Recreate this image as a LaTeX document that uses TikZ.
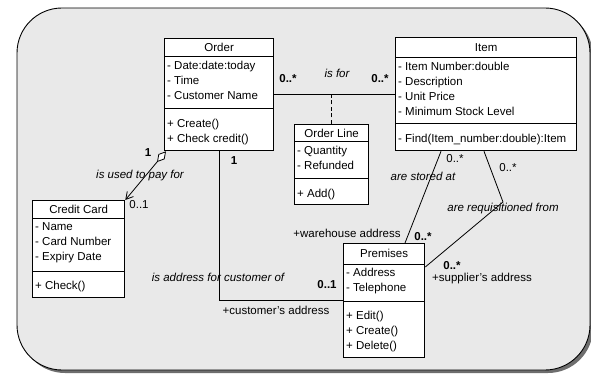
\documentclass[tikz,border=0pt]{standalone}
\usepackage{fontspec}
\setmainfont{Liberation Sans}
\usetikzlibrary{arrows.meta}

\definecolor{panelgray}{RGB}{233,233,233}
\definecolor{shadowgray}{RGB}{110,110,110}

\newcommand{\diagfont}{\fontsize{11.5pt}{15pt}\selectfont}

% name, north west corner, width, height, title height, attribute height, title, attributes, operations
\newcommand{\umlclass}[9]{%
  \node[classbox, minimum width=#3, minimum height=#4] (#1) at (#2) {};
  \node at ([yshift=-#5/2]#1.north) {#7};
  \draw[sepline] ([yshift=-#5]#1.north west) -- ([yshift=-#5]#1.north east);
  \draw[sepline] ([yshift=-#5-#6]#1.north west) -- ([yshift=-#5-#6]#1.north east);
  \node[members] at ([yshift=-#5]#1.north west) {#8};
  \node[members] at ([yshift=-#5-#6-6pt]#1.north west) {#9};
}

\begin{document}
\begin{tikzpicture}[x=1pt, y=1pt, font=\diagfont,
  classbox/.style={draw, line width=1.3pt, fill=white, anchor=north west, inner sep=0pt},
  sepline/.style={line width=1pt},
  members/.style={anchor=north west, align=left, inner xsep=3pt, inner ysep=3.5pt},
  assoc/.style={line width=0.8pt},
  lbl/.style={inner sep=0pt, text height=8.5pt, text depth=2.5pt},
  mult/.style={lbl, font=\diagfont\bfseries},
  role/.style={lbl, font=\diagfont\itshape}]
\useasboundingbox (0,0) rectangle (591,375);
\fill[shadowgray, rounded corners=45pt] (20,2) rectangle (593,364);
\draw[fill=panelgray, line width=0.9pt, rounded corners=45pt] (17,5) rectangle (590,367);

\umlclass{order}{164,337}{109pt}{112pt}{19pt}{52pt}{Order}
  {- Date:date:today\\- Time\\- Customer Name}{+ Create()\\+ Check credit()}
\umlclass{item}{395,338}{181pt}{113pt}{21pt}{66pt}{Item}
  {- Item Number:double\\- Description\\- Unit Price\\- Minimum Stock Level}{- Find(Item\_number:double):Item}
\umlclass{orderline}{294,251}{74pt}{80pt}{18pt}{37pt}{Order Line}
  {- Quantity\\- Refunded}{+ Add()}
\umlclass{creditcard}{32,175}{92pt}{97pt}{19pt}{52pt}{Credit Card}
  {- Name\\- Card Number\\- Expiry Date}{+ Check()}
\umlclass{premises}{343,132}{81pt}{114pt}{21pt}{37pt}{Premises}
  {- Address\\- Telephone}{+ Edit()\\+ Create()\\+ Delete()}

\draw[assoc] (order.east) -- (order.east -| item.west);
\draw[assoc, dash pattern=on 4pt off 2.5pt] (orderline.north) -- (orderline.north |- order.east);
\node[mult] at (288,295) {0..*};
\node[role] at (337,300) {is for};
\node[mult] at (380,295) {0..*};

\draw[assoc, {Diamond[fill=white, length=14pt, width=8pt]}-{Straight Barb[length=7pt, width=8pt]}]
  ([xshift=2pt]order.south west) -- (creditcard.north east);
\node[mult] at (148,221) {1};
\node[role] at (140,199) {is used to pay for};
\node[lbl] at (139,169) {0..1};

\draw[assoc] (order.south) |- (premises.west);
\node[mult] at (234,213) {1};
\node[role] at (218,97) {is address for customer of};
\node[mult] at (327,90) {0..1};
\node[lbl] at (276,64) {+customer's address};

\draw[assoc] ([xshift=46pt]item.south west) -- ([xshift=62pt]premises.north west);
\node[lbl] at (455,215) {0..*};
\node[role] at (423,197) {are stored at};
\node[lbl] at (347,141) {+warehouse address};
\node[mult] at (423,138) {0..*};

\coordinate (reqbend) at (503,173);
\draw[assoc] ([xshift=89pt]item.south west) -- (reqbend) -- ([yshift=-24pt]premises.north east);
\node[lbl] at (508,206) {0..*};
\node[role] at (503,166) {are requisitioned from};
\node[mult] at (452,109) {0..*};
\node[lbl] at (482,97) {+supplier's address};
\end{tikzpicture}
\end{document}
